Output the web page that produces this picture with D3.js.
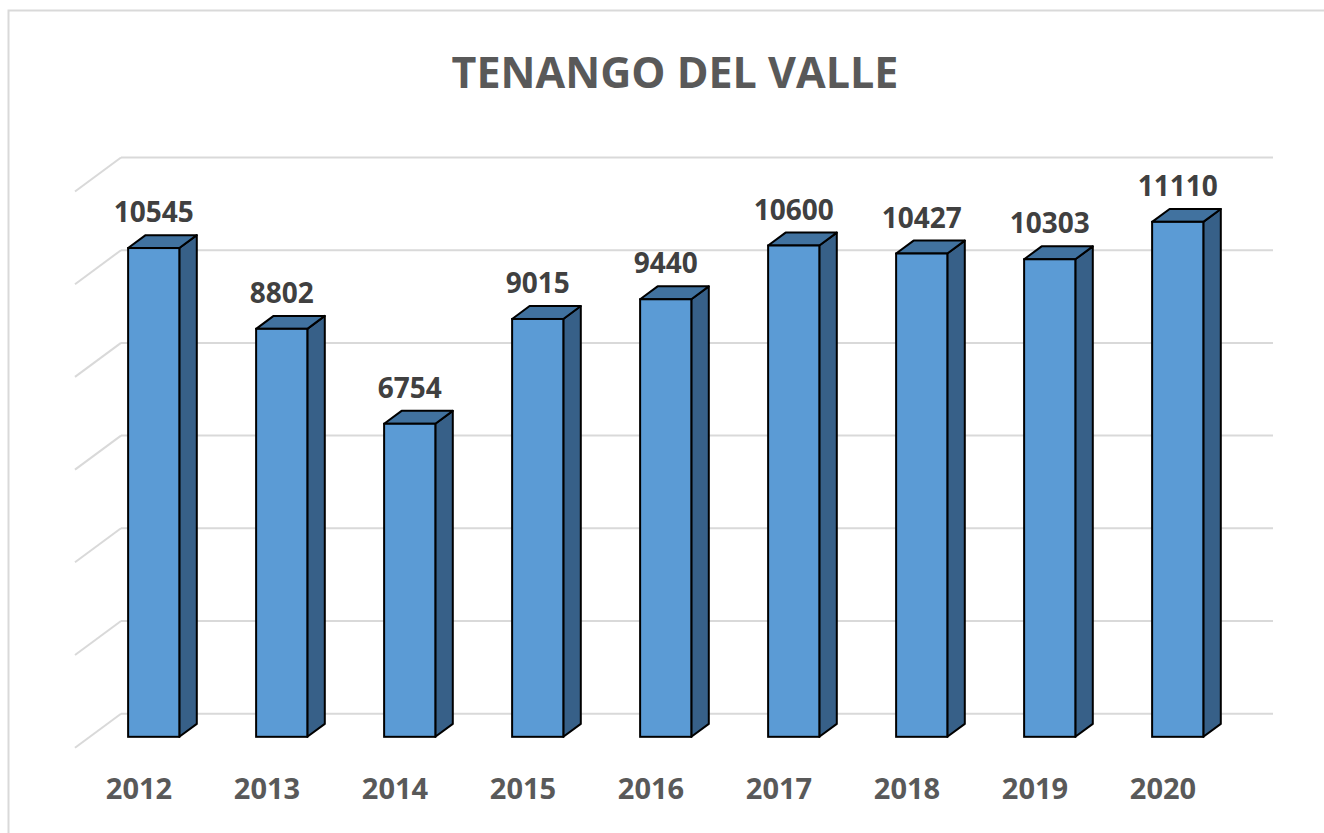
<!DOCTYPE html>
<html>
<head>
<meta charset="utf-8">
<script src="https://cdn.jsdelivr.net/npm/d3@7"></script>
<style>
  body { margin: 0; background: #fff; }
  text { font-family: "Open Sans", "Liberation Sans", sans-serif; font-weight: bold; }
</style>
</head>
<body>
<div id="chart"></div>
<script>
// data
var years = ["2012", "2013", "2014", "2015", "2016", "2017", "2018", "2019", "2020"];
var values = [10545, 8802, 6754, 9015, 9440, 10600, 10427, 10303, 11110];
var yTicks = [0, 2000, 4000, 6000, 8000, 10000, 12000];
var title = "TENANGO DEL VALLE";

var w = 1324, h = 833;

// back wall of the 3d plot area
var wallLeft = 121, wallRight = 1273;
var wallBottom = 713.7, wallTop = 157.5;

// full floor depth as an oblique offset (back -> front)
var depthX = -46, depthY = 34;
// bar front and back sit at these fractions of the floor depth
var frontD = 0.68, backD = 0.30;

var svg = d3.select("#chart")
	.append("svg")
	.attr("width", w)
	.attr("height", h);

// chart area frame (only top and left edges show in the crop)
svg.append("rect")
	.attr("x", 8.5)
	.attr("y", 10.5)
	.attr("width", w + 20)
	.attr("height", h + 20)
	.attr("fill", "none")
	.attr("stroke", "#d9d9d9")
	.attr("stroke-width", 2);

var xscale = d3.scaleBand()
	.domain(years)
	.range([wallLeft, wallRight])
	.paddingInner(0.6)
	.paddingOuter(0.3);

var yscale = d3.scaleLinear()
	.domain([0, 12000])
	.range([wallBottom, wallTop]);

// gridlines: back wall + side wall diagonal
var grid = svg.append("g").attr("class", "grid");
grid.selectAll("line.back")
	.data(yTicks)
	.enter().append("line")
	.attr("class", "back")
	.attr("x1", wallLeft)
	.attr("x2", wallRight)
	.attr("y1", function(d){ return yscale(d); })
	.attr("y2", function(d){ return yscale(d); })
	.attr("stroke", "#d9d9d9")
	.attr("stroke-width", 2);

grid.selectAll("line.side")
	.data(yTicks)
	.enter().append("line")
	.attr("class", "side")
	.attr("x1", wallLeft)
	.attr("x2", wallLeft + depthX)
	.attr("y1", function(d){ return yscale(d); })
	.attr("y2", function(d){ return yscale(d) + depthY; })
	.attr("stroke", "#d9d9d9")
	.attr("stroke-width", 2);

svg.append("text")
	.attr("x", 675)
	.attr("y", 88)
	.attr("text-anchor", "middle")
	.attr("fill", "#595959")
	.style("font-size", "43px")
	.text(title);

var fdx = depthX * frontD, fdy = depthY * frontD;
var bdx = depthX * backD, bdy = depthY * backD;
var bw = xscale.bandwidth();

function pts(arr){
	return arr.map(function(p){ return p[0] + "," + p[1]; }).join(" ");
}

var data = years.map(function(y, i){ return { year: y, value: values[i] }; });

var bars = svg.selectAll("g.bar")
	.data(data)
	.enter().append("g")
	.attr("class", "bar");

// side face
bars.append("polygon")
	.attr("points", function(d){
		var x = xscale(d.year) + bw, t = yscale(d.value), b = yscale(0);
		return pts([[x + fdx, t + fdy], [x + bdx, t + bdy], [x + bdx, b + bdy], [x + fdx, b + fdy]]);
	})
	.attr("fill", "#376088")
	.attr("stroke", "#000")
	.attr("stroke-width", 2)
	.attr("stroke-linejoin", "round");

// top face
bars.append("polygon")
	.attr("points", function(d){
		var x = xscale(d.year), t = yscale(d.value);
		return pts([[x + fdx, t + fdy], [x + bdx, t + bdy], [x + bw + bdx, t + bdy], [x + bw + fdx, t + fdy]]);
	})
	.attr("fill", "#41729f")
	.attr("stroke", "#000")
	.attr("stroke-width", 2)
	.attr("stroke-linejoin", "round");

// front face
bars.append("rect")
	.attr("x", function(d){ return xscale(d.year) + fdx; })
	.attr("y", function(d){ return yscale(d.value) + fdy; })
	.attr("width", bw)
	.attr("height", function(d){ return yscale(0) - yscale(d.value); })
	.attr("fill", "#5b9bd5")
	.attr("stroke", "#000")
	.attr("stroke-width", 2);

// value labels above each bar
bars.append("text")
	.attr("x", function(d){ return xscale(d.year) + fdx + bw / 2; })
	.attr("y", function(d){ return yscale(d.value) + fdy - 26; })
	.attr("text-anchor", "middle")
	.attr("fill", "#404040")
	.style("font-size", "28px")
	.text(function(d){ return d.value; });

// category labels along the front edge of the floor
svg.selectAll("text.year")
	.data(years)
	.enter().append("text")
	.attr("class", "year")
	.attr("x", function(d){ return xscale(d) + bw / 2 + depthX; })
	.attr("y", 799)
	.attr("text-anchor", "middle")
	.attr("fill", "#595959")
	.style("font-size", "29px")
	.text(function(d){ return d; });
</script>
</body>
</html>
